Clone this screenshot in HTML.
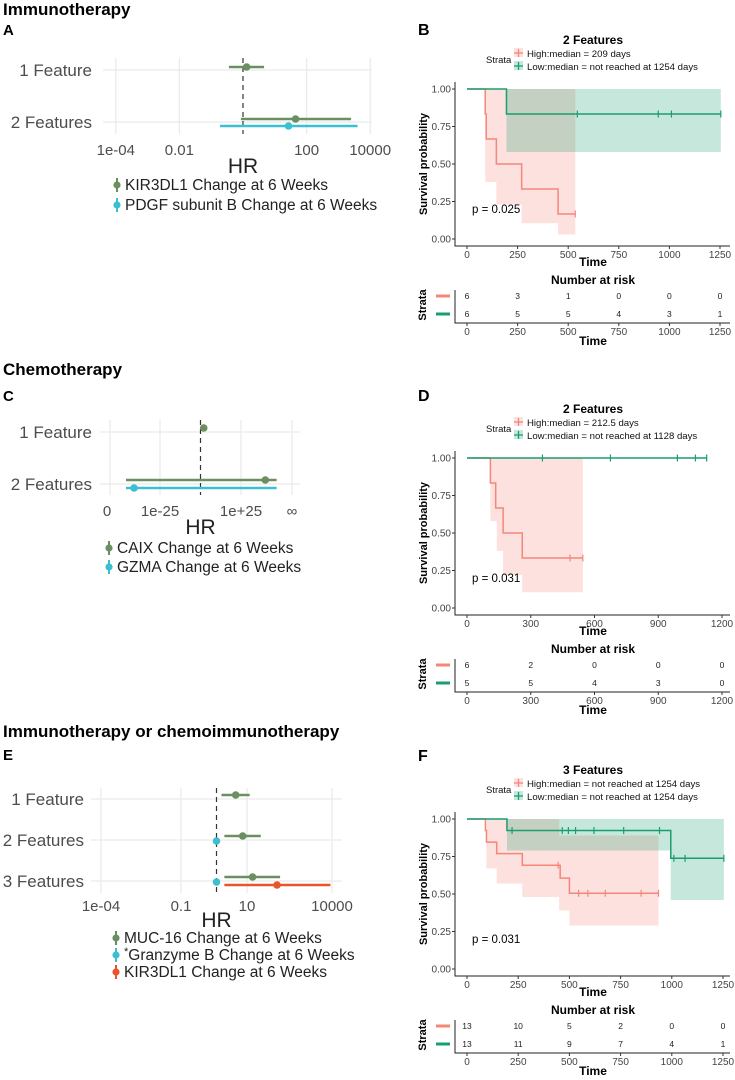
<!DOCTYPE html>
<html><head><meta charset="utf-8">
<style>
html,body{margin:0;padding:0;background:#fff;}
svg{display:block;font-family:"Liberation Sans",Arial,sans-serif;}
</style></head>
<body>
<svg id="fig" width="735" height="1080" viewBox="0 0 735 1080" xmlns="http://www.w3.org/2000/svg">
<g id="root"></g>
</svg>
<script>
// ---------- Forest plot data ----------
const aRowLabels = ["1 Feature", "2 Features"];
const aKirHR = [1.3, 45];
const aKirLo = [0.36, 0.86];
const aKirHi = [4.6, 2500];
const aPdgfHR = [null, 27];
const aPdgfLo = [null, 0.19];
const aPdgfHi = [null, 4000];
const aTicks = [1e-4, 0.01, 100, 10000];
const aTickLabels = ["1e-04", "0.01", "100", "10000"];
const cRowLabels = ["1 Feature", "2 Features"];
const cCaixHR = [2, 40];
const cCaixLo = [null, -46];
const cCaixHi = [null, 47];
const cGzmaHR = [null, -41];
const cGzmaLo = [null, -46];
const cGzmaHi = [null, 47];
const cTickLabels = ["0", "1e-25", "1e+25", "\u221E"];
const eRowLabels = ["1 Feature", "2 Features", "3 Features"];
const eMucHR = [4.8, 8.5, 19];
const eMucLo = [1.5, 1.9, 1.9];
const eMucHi = [15, 37, 180];
const eGzmbHR = [null, 1, 1];
const eKirHR = [null, null, 140];
const eKirLo = [null, null, 1.9];
const eKirHi = [null, null, 11000];
const eTicks = [1e-4, 0.1, 10, 10000];
const eTickLabels = ["1e-04", "0.1", "10", "10000"];

// ---------- KM data ----------
const bHighT = [90, 95, 145, 270, 450];
const bHighS = [0.833, 0.667, 0.5, 0.333, 0.167];
const bHighEnd = 535;
const bHighCens = [535];
const bHighCiT = [0, 90, 145, 270, 450];
const bHighCiLo = [1, 0.38, 0.23, 0.105, 0.03];
const bHighCiHi = [1, 1, 1, 1, 1];
const bLowT = [195];
const bLowS = [0.833];
const bLowEnd = 1254;
const bLowCens = [545, 945, 1010, 1254];
const bLowCiT = [0, 195];
const bLowCiLo = [1, 0.58];
const bLowCiHi = [1, 1];
const bRiskHigh = [6, 3, 1, 0, 0, 0];
const bRiskLow = [6, 5, 5, 4, 3, 1];
const bTicks = [0, 250, 500, 750, 1000, 1250];

const dHighT = [110, 135, 170, 260];
const dHighS = [0.833, 0.667, 0.5, 0.333];
const dHighEnd = 545;
const dHighCens = [485, 545];
const dHighCiT = [0, 110, 140, 170, 260];
const dHighCiLo = [1, 0.58, 0.38, 0.22, 0.105];
const dHighCiHi = [1, 1, 1, 1, 1];
const dLowT = [];
const dLowS = [];
const dLowEnd = 1128;
const dLowCens = [355, 675, 990, 1075, 1128];
const dLowCiT = [0];
const dLowCiLo = [1];
const dLowCiHi = [1];
const dRiskHigh = [6, 2, 0, 0, 0];
const dRiskLow = [5, 5, 4, 3, 0];
const dTicks = [0, 300, 600, 900, 1200];

const fHighT = [90, 95, 145, 270, 455, 500];
const fHighS = [0.923, 0.846, 0.769, 0.692, 0.606, 0.505];
const fHighEnd = 935;
const fHighCens = [445, 545, 590, 675, 850, 935];
const fHighCiT = [0, 95, 145, 270, 450, 500];
const fHighCiLo = [1, 0.67, 0.57, 0.48, 0.39, 0.29];
const fHighCiHi = [1, 1, 1, 1, 0.89, 0.89];
const fLowT = [195, 995];
const fLowS = [0.923, 0.738];
const fLowEnd = 1254;
const fLowCens = [220, 465, 495, 530, 620, 765, 940, 1010, 1065, 1254];
const fLowCiT = [0, 195, 995];
const fLowCiLo = [1, 0.79, 0.46];
const fLowCiHi = [1, 1, 1];
const fRiskHigh = [13, 10, 5, 2, 0, 0];
const fRiskLow = [13, 11, 9, 7, 4, 1];
const fTicks = [0, 250, 500, 750, 1000, 1250];

const NS = "http://www.w3.org/2000/svg";
const root = document.getElementById("root");
function mk(tag, attrs, parent, text) {
  const e = document.createElementNS(NS, tag);
  for (const k in attrs) e.setAttribute(k, attrs[k]);
  if (text !== undefined) e.textContent = text;
  (parent || root).appendChild(e);
  return e;
}
const GREEN = "#6b8f60", CYAN = "#3cbfd0", RED = "#e9542c";
const KMP = "#f4877a", KMG = "#1a9e6e";

function heading(txt, x, y, size, name) {
  const t = mk("text", {x: x, y: y, "font-size": size, "font-weight": "bold", fill: "#000"}, root, txt);
  
  
}

function forest(o) {
  const g = mk("g", {});
  
  
  o.gridX.forEach(function (gx) {
    const l = mk("line", {x1: gx, x2: gx, y1: o.gTop, y2: o.gBot, stroke: "#ebebeb", "stroke-width": 1.3}, g);
    
    
  });
  o.rowY.forEach(function (ry, i) {
    const l = mk("line", {x1: o.gL, x2: o.gR, y1: ry, y2: ry, stroke: "#ebebeb", "stroke-width": 1.3}, g);
    
    
    const t = mk("text", {x: o.labX, y: ry + 6, "text-anchor": "end", "font-size": 17, fill: "#4d4d4d"}, g, o.rowLabels[i]);
    
    
  });
  const d = mk("line", {x1: o.refX, x2: o.refX, y1: o.gTop, y2: o.gBot, stroke: "#333", "stroke-width": 1.2, "stroke-dasharray": "5,4"}, g);
  
  
  o.tickX.forEach(function (tx, i) {
    const t = mk("text", {x: tx, y: o.tickY, "text-anchor": "middle", "font-size": 15, fill: "#4d4d4d"}, g, o.tickLabels[i]);
    
    
  });
  const hr = mk("text", {x: o.refX, y: o.hrY, "text-anchor": "middle", "font-size": 21, fill: "#222"}, g, "HR");
  
  
  o.series.forEach(function (s) {
    s.hr.forEach(function (v, i) {
      if (v === null) return;
      const y = o.rowY[i] + s.dy;
      if (s.lo && s.lo[i] !== null) {
        const l = mk("line", {x1: o.sx(s.lo[i]), x2: o.sx(s.hi[i]), y1: y, y2: y, stroke: s.color, "stroke-width": 2.4}, g);
        
        
      }
      const c = mk("circle", {cx: o.sx(v), cy: y, r: 3.8, fill: s.color}, g);
      
      
    });
  });
  o.legend.forEach(function (lg, i) {
    const y = o.legY + i * o.legStep;
    const lgG = mk("g", {}, g);
    
    
    mk("line", {x1: o.legX, x2: o.legX, y1: y - 7, y2: y + 7, stroke: lg.color, "stroke-width": 2}, lgG);
    mk("circle", {cx: o.legX, cy: y, r: 3.6, fill: lg.color}, lgG);
    const t = mk("text", {x: o.legX + 8, y: y + 5, "font-size": 15.5, fill: "#222"}, lgG);
    if (lg.star) {
      mk("tspan", {dy: -5, "font-size": 11}, t, "*");
      mk("tspan", {dy: 5}, t, lg.text);
    } else {
      t.textContent = lg.text;
    }
  });
}

const aScale = function (v) { return 243 + 31.8 * Math.log10(v); };
heading("Immunotherapy", 3, 15, 17, "section-title-immunotherapy");
heading("A", 3, 35, 15, "panel-label-a");
forest({
  name: "forest-plot-a", sx: aScale, rowY: [70, 122], rowLabels: aRowLabels,
  gridX: aTicks.map(aScale), tickX: aTicks.map(aScale), tickLabels: aTickLabels,
  gL: 103, gR: 372, gTop: 58, gBot: 134, refX: aScale(1), labX: 92, tickY: 155, hrY: 173,
  series: [
    {key: "kir3dl1", color: GREEN, hr: aKirHR, lo: aKirLo, hi: aKirHi, dy: -3},
    {key: "pdgf", color: CYAN, hr: aPdgfHR, lo: aPdgfLo, hi: aPdgfHi, dy: 4}
  ],
  legX: 117, legY: 185, legStep: 20,
  legend: [{color: GREEN, text: "KIR3DL1 Change at 6 Weeks"}, {color: CYAN, text: "PDGF subunit B Change at 6 Weeks"}]
});

const cScale = function (v) { return 200.5 + 1.62 * v; };
heading("Chemotherapy", 3, 375, 17, "section-title-chemotherapy");
heading("C", 3, 401, 15, "panel-label-c");
forest({
  name: "forest-plot-c", sx: cScale, rowY: [432, 484], rowLabels: cRowLabels,
  gridX: [110, cScale(-25), cScale(25), 292], tickX: [107, cScale(-25), cScale(25), 292], tickLabels: cTickLabels,
  gL: 100, gR: 300, gTop: 420, gBot: 495, refX: cScale(0), labX: 92, tickY: 516, hrY: 534,
  series: [
    {key: "caix", color: GREEN, hr: cCaixHR, lo: cCaixLo, hi: cCaixHi, dy: -4},
    {key: "gzma", color: CYAN, hr: cGzmaHR, lo: cGzmaLo, hi: cGzmaHi, dy: 4}
  ],
  legX: 109, legY: 548, legStep: 19,
  legend: [{color: GREEN, text: "CAIX Change at 6 Weeks"}, {color: CYAN, text: "GZMA Change at 6 Weeks"}]
});

const eScale = function (v) { return 216.5 + 28.2 * Math.log10(v); };
heading("Immunotherapy or chemoimmunotherapy", 3, 737, 17, "section-title-chemoimmunotherapy");
heading("E", 3, 760, 15, "panel-label-e");
forest({
  name: "forest-plot-e", sx: eScale, rowY: [799, 840, 881], rowLabels: eRowLabels,
  gridX: [101, 181, 247, 332], tickX: [101, 181, 247, 332], tickLabels: eTickLabels,
  gL: 91, gR: 342, gTop: 788, gBot: 893, refX: eScale(1), labX: 84, tickY: 911, hrY: 927,
  series: [
    {key: "muc16", color: GREEN, hr: eMucHR, lo: eMucLo, hi: eMucHi, dy: -4},
    {key: "granzyme-b", color: CYAN, hr: eGzmbHR, lo: null, hi: null, dy: 1},
    {key: "kir3dl1", color: RED, hr: eKirHR, lo: eKirLo, hi: eKirHi, dy: 4}
  ],
  legX: 116, legY: 938, legStep: 17,
  legend: [{color: GREEN, text: "MUC-16 Change at 6 Weeks"}, {color: CYAN, text: "Granzyme B Change at 6 Weeks", star: true}, {color: RED, text: "KIR3DL1 Change at 6 Weeks"}]
});

function km(o) {
  const g = mk("g", {});
  
  
  const x0 = 467, sx = function (t) { return x0 + t * (o.xEndPx - x0) / o.xMax; };
  const y1 = o.y1, y0 = o.y1 + 150, sy = function (s) { return y0 - s * (y0 - y1); };
  const letter = mk("text", {x: 418, y: o.letterY, "font-size": 16, "font-weight": "bold"}, g, o.letter);
  
  
  const title = mk("text", {x: 593, y: y1 - 45, "font-size": 12, "font-weight": "bold", "text-anchor": "middle"}, g, o.title);
  
  
  const st = mk("text", {x: 486, y: y1 - 26, "font-size": 9.5, fill: "#111"}, g, "Strata");
  
  
  [[KMP, o.legHigh, -36], [KMG, o.legLow, -23]].forEach(function (L) {
    const lg = mk("g", {}, g);
    
    
    mk("rect", {x: 514, y: y1 + L[2] - 5, width: 9, height: 9, fill: L[0], opacity: 0.25}, lg);
    mk("line", {x1: 514, x2: 523, y1: y1 + L[2], y2: y1 + L[2], stroke: L[0], "stroke-width": 1.3}, lg);
    mk("line", {x1: 518.5, x2: 518.5, y1: y1 + L[2] - 4, y2: y1 + L[2] + 4, stroke: L[0], "stroke-width": 1.3}, lg);
    mk("text", {x: 527, y: y1 + L[2] + 4, "font-size": 9.6, fill: "#111"}, lg, L[1]);
  });
  function ciPath(T, lo, hi, end) {
    let up = "", dn = "";
    for (let i = 0; i < T.length; i++) {
      const a = sx(T[i]), b = sx(i + 1 < T.length ? T[i + 1] : end);
      up += (i ? "L" : "M") + a + "," + sy(hi[i]) + "L" + b + "," + sy(hi[i]);
    }
    for (let i = T.length - 1; i >= 0; i--) {
      const a = sx(T[i]), b = sx(i + 1 < T.length ? T[i + 1] : end);
      dn += "L" + b + "," + sy(lo[i]) + "L" + a + "," + sy(lo[i]);
    }
    return up + dn + "Z";
  }
  function curve(T, S, end, color, cens, key, ci) {
    const band = mk("path", {d: ciPath(ci.T, ci.lo, ci.hi, ci.end), fill: color, opacity: 0.25}, g);
    
    
    let d = "M" + sx(0) + "," + sy(1);
    for (let i = 0; i < T.length; i++) { d += "H" + sx(T[i]) + "V" + sy(S[i]); }
    d += "H" + sx(end);
    const p = mk("path", {d: d, fill: "none", stroke: color, "stroke-width": 1.5}, g);
    
    
    cens.forEach(function (c) {
      let s = 1;
      for (let i = 0; i < T.length; i++) if (T[i] <= c) s = S[i];
      const m = mk("line", {x1: sx(c), x2: sx(c), y1: sy(s) - 3.5, y2: sy(s) + 3.5, stroke: color, "stroke-width": 1.2}, g);
      
      
    });
  }
  curve(o.hT, o.hS, o.hEnd, KMP, o.hC, "high", {T: o.hCiT, lo: o.hCiLo, hi: o.hCiHi, end: o.hEnd});
  curve(o.lT, o.lS, o.lEnd, KMG, o.lC, "low", {T: o.lCiT, lo: o.lCiLo, hi: o.lCiHi, end: o.lEnd});
  const ax = mk("path", {d: "M455," + (y1 - 7) + "V" + (y0 + 7) + "H730", fill: "none", stroke: "#222", "stroke-width": 1}, g);
  
  
  [0, 0.25, 0.5, 0.75, 1].forEach(function (v) {
    mk("line", {x1: 452, x2: 455, y1: sy(v), y2: sy(v), stroke: "#333"}, g);
    const t = mk("text", {x: 451, y: sy(v) + 3.5, "font-size": 10, "text-anchor": "end", fill: "#444"}, g, v.toFixed(2));
    
    
  });
  o.ticks.forEach(function (v) {
    mk("line", {x1: sx(v), x2: sx(v), y1: y0 + 7, y2: y0 + 10, stroke: "#333"}, g);
    const t = mk("text", {x: sx(v), y: y0 + 19, "font-size": 10, "text-anchor": "middle", fill: "#444"}, g, v);
    
    
  });
  const yt = mk("text", {transform: "translate(427," + (sy(0.5)) + ") rotate(-90)", "font-size": 11, "font-weight": "bold", "text-anchor": "middle"}, g, "Survival probability");
  
  
  const xt = mk("text", {x: 593, y: y1 + 177, "font-size": 12, "font-weight": "bold", "text-anchor": "middle"}, g, "Time");
  
  
  const pv = mk("text", {x: 472, y: sy(0.2) + 4, "font-size": 11.5}, g, o.p);
  
  
  const nt = mk("text", {x: 593, y: y1 + 195, "font-size": 12, "font-weight": "bold", "text-anchor": "middle"}, g, "Number at risk");
  
  
  const tab = mk("path", {d: "M455," + (y1 + 201) + "V" + (y1 + 234) + "H730", fill: "none", stroke: "#222", "stroke-width": 1}, g);
  
  
  const rs = mk("text", {transform: "translate(426," + (y1 + 216) + ") rotate(-90)", "font-size": 11, "font-weight": "bold", "text-anchor": "middle"}, g, "Strata");
  
  
  [[o.rH, KMP, 207], [o.rL, KMG, 225]].forEach(function (R) {
    const ln = mk("line", {x1: 436, x2: 450, y1: y1 + R[2], y2: y1 + R[2], stroke: R[1], "stroke-width": 3}, g);
    
    
    R[0].forEach(function (n, i) {
      const t = mk("text", {x: sx(o.ticks[i]), y: y1 + R[2] + 3, "font-size": 8.5, "text-anchor": "middle", fill: "#222"}, g, n);
      
      
    });
  });
  o.ticks.forEach(function (v) {
    mk("line", {x1: sx(v), x2: sx(v), y1: y1 + 234, y2: y1 + 237, stroke: "#333"}, g);
    const t = mk("text", {x: sx(v), y: y1 + 246, "font-size": 10, "text-anchor": "middle", fill: "#444"}, g, v);
    
    
  });
  const xt2 = mk("text", {x: 593, y: y1 + 256, "font-size": 12, "font-weight": "bold", "text-anchor": "middle"}, g, "Time");
  
  
}

km({name: "km-plot-b", letter: "B", letterY: 35, title: "2 Features", y1: 89, xMax: 1250, xEndPx: 720, ticks: bTicks,
  legHigh: "High:median = 209 days", legLow: "Low:median = not reached at 1254 days", p: "p = 0.025",
  hT: bHighT, hS: bHighS, hEnd: bHighEnd, hC: bHighCens, hCiT: bHighCiT, hCiLo: bHighCiLo, hCiHi: bHighCiHi,
  lT: bLowT, lS: bLowS, lEnd: bLowEnd, lC: bLowCens, lCiT: bLowCiT, lCiLo: bLowCiLo, lCiHi: bLowCiHi,
  rH: bRiskHigh, rL: bRiskLow});
km({name: "km-plot-d", letter: "D", letterY: 401, title: "2 Features", y1: 458, xMax: 1200, xEndPx: 722, ticks: dTicks,
  legHigh: "High:median = 212.5 days", legLow: "Low:median = not reached at 1128 days", p: "p = 0.031",
  hT: dHighT, hS: dHighS, hEnd: dHighEnd, hC: dHighCens, hCiT: dHighCiT, hCiLo: dHighCiLo, hCiHi: dHighCiHi,
  lT: dLowT, lS: dLowS, lEnd: dLowEnd, lC: dLowCens, lCiT: dLowCiT, lCiLo: dLowCiLo, lCiHi: dLowCiHi,
  rH: dRiskHigh, rL: dRiskLow});
km({name: "km-plot-f", letter: "F", letterY: 761, title: "3 Features", y1: 819, xMax: 1250, xEndPx: 723, ticks: fTicks,
  legHigh: "High:median = not reached at 1254 days", legLow: "Low:median = not reached at 1254 days", p: "p = 0.031",
  hT: fHighT, hS: fHighS, hEnd: fHighEnd, hC: fHighCens, hCiT: fHighCiT, hCiLo: fHighCiLo, hCiHi: fHighCiHi,
  lT: fLowT, lS: fLowS, lEnd: fLowEnd, lC: fLowCens, lCiT: fLowCiT, lCiLo: fLowCiLo, lCiHi: fLowCiHi,
  rH: fRiskHigh, rL: fRiskLow});
</script>
</body></html>
